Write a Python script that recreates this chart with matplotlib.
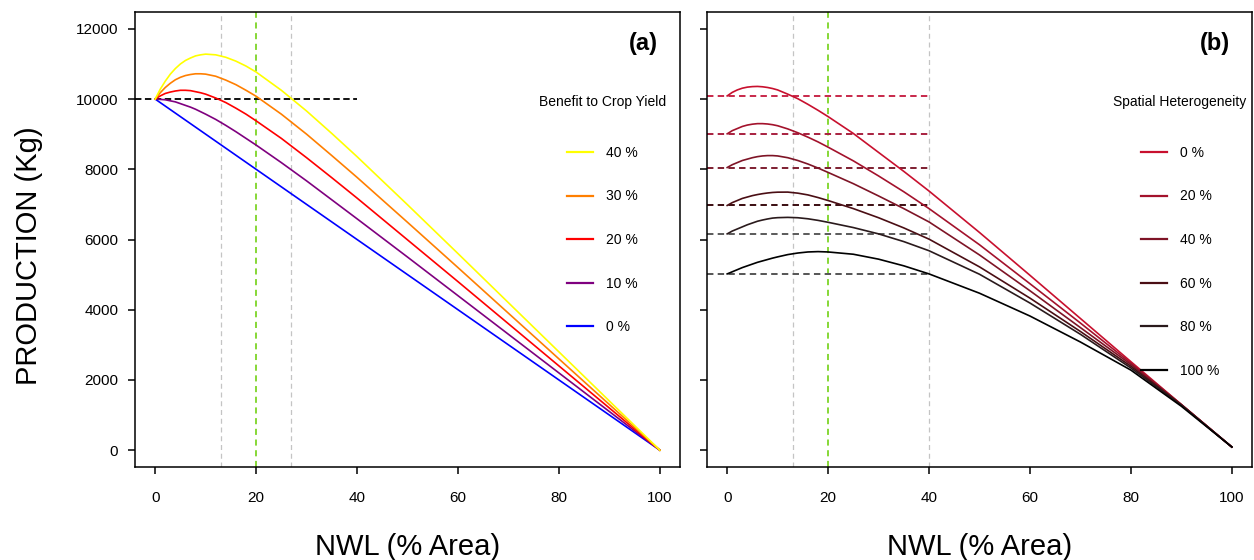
import matplotlib
matplotlib.use("Agg")
import matplotlib.pyplot as plt

plt.rcParams["font.family"] = ["Liberation Sans", "DejaVu Sans"]

# NWL (% area) sample points
nwl = [0, 1, 2, 3, 4, 5, 6, 7, 8, 9, 10, 12, 14, 16, 18, 20,
       25, 30, 35, 40, 50, 60, 70, 80, 90, 100]

# panel (a): benefit to crop yield
benefit_labels = ["0 %", "10 %", "20 %", "30 %", "40 %"]
prod_b0 = [10000, 9900, 9800, 9700, 9600, 9500, 9400, 9300, 9200, 9100, 9000, 8800, 8600,
           8400, 8200, 8000, 7500, 7000, 6500, 6000, 5000, 4000, 3000, 2000, 1000, 0]
prod_b10 = [10000, 9990, 9980, 9950, 9920, 9870, 9820, 9770, 9710, 9640, 9570, 9420, 9250,
            9070, 8880, 8690, 8190, 7670, 7130, 6590, 5500, 4400, 3300, 2200, 1100, 0]
prod_b20 = [10000, 10090, 10160, 10200, 10230, 10250, 10250, 10240, 10210, 10180, 10140,
            10030, 9900, 9740, 9570, 9380, 8880, 8330, 7760, 7180, 5990, 4800, 3600, 2400,
            1200, 0]
prod_b30 = [10000, 10180, 10330, 10450, 10550, 10620, 10670, 10700, 10720, 10720, 10710,
            10650, 10540, 10410, 10250, 10080, 9570, 9000, 8390, 7770, 6490, 5200, 3900,
            2600, 1300, 0]
prod_b40 = [10000, 10280, 10510, 10710, 10870, 11000, 11100, 11170, 11230, 11260, 11280,
            11260, 11190, 11080, 10940, 10770, 10250, 9660, 9020, 8360, 6990, 5600, 4200,
            2800, 1400, 0]
benefit_colors = ["#0000FF", "#7F007F", "#FF0000", "#FF7F00", "#FFFF00"]

# panel (b): spatial heterogeneity
hetero_labels = ["0 %", "20 %", "40 %", "60 %", "80 %", "100 %"]
prod_h0 = [10090, 10190, 10260, 10310, 10340, 10355, 10360, 10350, 10330, 10300, 10260,
           10140, 10010, 9850, 9680, 9500, 9020, 8480, 7940, 7380, 6200, 4980, 3750, 2520,
           1300, 90]
prod_h20 = [9010, 9100, 9160, 9220, 9260, 9285, 9300, 9300, 9290, 9270, 9240, 9150, 9040,
            8915, 8780, 8630, 8240, 7810, 7360, 6880, 5850, 4740, 3620, 2480, 1300, 90]
prod_h40 = [8050, 8130, 8190, 8250, 8290, 8330, 8360, 8380, 8390, 8390, 8380, 8330, 8250,
            8150, 8035, 7910, 7590, 7240, 6880, 6500, 5560, 4540, 3490, 2440, 1290, 90]
prod_h60 = [6970, 7050, 7110, 7170, 7210, 7250, 7280, 7305, 7325, 7340, 7348, 7350, 7320,
            7270, 7195, 7110, 6880, 6620, 6330, 6010, 5220, 4330, 3380, 2390, 1290, 90]
prod_h80 = [6160, 6240, 6300, 6360, 6420, 6470, 6520, 6555, 6585, 6610, 6622, 6630, 6620,
            6590, 6545, 6490, 6340, 6160, 5940, 5680, 5010, 4190, 3300, 2340, 1280, 90]
prod_h100 = [5020, 5080, 5140, 5200, 5250, 5300, 5350, 5390, 5430, 5470, 5505, 5570, 5615,
             5645, 5655, 5645, 5580, 5440, 5250, 5020, 4470, 3820, 3080, 2280, 1250, 90]
hetero_colors = ["#C8102E", "#A3122C", "#7E1426", "#4A0E14", "#2A1A1C", "#000000"]
hetero_dash_colors = ["#C8284A", "#A8203F", "#7E1E30", "#3A0C10", "#5A5A5A", "#555555"]

# reference lines
base_prod = 10000
vlines_a = [13, 20, 27]
vlines_b = [13, 20, 40]
hline_end = 40

GREY = "#C4C4C4"
GREEN = "#66CD00"

fig = plt.figure(figsize=(12.54, 5.6), dpi=100)
ax_a = fig.add_axes([135 / 1254, 93 / 560, 545 / 1254, 455 / 560])
ax_b = fig.add_axes([707 / 1254, 93 / 560, 545 / 1254, 455 / 560])


def style_axes(ax, show_ylabels):
    ax.set_xlim(-4, 104)
    ax.set_ylim(-480, 12480)
    ax.set_xticks([0, 20, 40, 60, 80, 100])
    ax.set_yticks([0, 2000, 4000, 6000, 8000, 10000, 12000])
    for s in ax.spines.values():
        s.set_linewidth(1.1)
    ax.tick_params(axis="both", direction="out", length=5, width=1.1, labelsize=11)
    ax.tick_params(axis="x", pad=12)
    ax.tick_params(axis="y", pad=7)
    if not show_ylabels:
        ax.tick_params(axis="y", labelleft=False)
    ax.set_xlabel("NWL (% Area)", fontsize=21)
    ax.xaxis.set_label_coords(0.5, -0.145)


def add_vlines(ax, xs):
    for x in xs:
        col = GREEN if x == 20 else GREY
        lw = 1.1 if x == 20 else 0.9
        ax.axvline(x, color=col, lw=lw, ls=(0, (4, 3)), zorder=1)


def add_legend(ax, handles, title, x):
    leg = ax.legend(handles=handles, loc="upper center", bbox_to_anchor=(x, 0.832),
                    frameon=False, title=title, title_fontsize=10, fontsize=10,
                    handlelength=1.9, handletextpad=0.9, labelspacing=2.13,
                    borderpad=0)
    # a bit more room between the title and the first entry
    leg._legend_box.sep = 2.13 * 10 + 5
    for ln in leg.get_lines():
        ln.set_linewidth(1.6)
    return leg


# ---- panel (a)
add_vlines(ax_a, vlines_a)
ax_a.plot([-4, hline_end], [base_prod, base_prod], color="#111111", lw=1.4,
          ls=(0, (3.3, 1.8)), zorder=2)
series_a = [prod_b0, prod_b10, prod_b20, prod_b30, prod_b40]
lines_a = []
for vals, col, lab in zip(series_a, benefit_colors, benefit_labels):
    ln, = ax_a.plot(nwl, vals, color=col, lw=1.2, label=lab, zorder=3)
    lines_a.append(ln)
style_axes(ax_a, True)
ax_a.set_ylabel("PRODUCTION (Kg)", fontsize=21)
ax_a.yaxis.set_label_coords(-0.169, 0.464)
ax_a.text(0.96, 0.93, "(a)", transform=ax_a.transAxes, ha="right", va="center",
          fontsize=17, fontweight="bold")
add_legend(ax_a, lines_a[::-1], "Benefit to Crop Yield", 0.857)

# ---- panel (b)
add_vlines(ax_b, vlines_b)
series_b = [prod_h0, prod_h20, prod_h40, prod_h60, prod_h80, prod_h100]
lines_b = []
for vals, col, dcol, lab in zip(series_b, hetero_colors, hetero_dash_colors, hetero_labels):
    ax_b.plot([-4, hline_end], [vals[0], vals[0]], color=dcol, lw=1.4,
              ls=(0, (3.3, 2.2)), zorder=2)
    ln, = ax_b.plot(nwl, vals, color=col, lw=1.2, label=lab, zorder=3)
    lines_b.append(ln)
style_axes(ax_b, False)
ax_b.text(0.96, 0.93, "(b)", transform=ax_b.transAxes, ha="right", va="center",
          fontsize=17, fontweight="bold")
add_legend(ax_b, lines_b, "Spatial Heterogeneity", 0.868)

fig.savefig("out.png", dpi=100)
